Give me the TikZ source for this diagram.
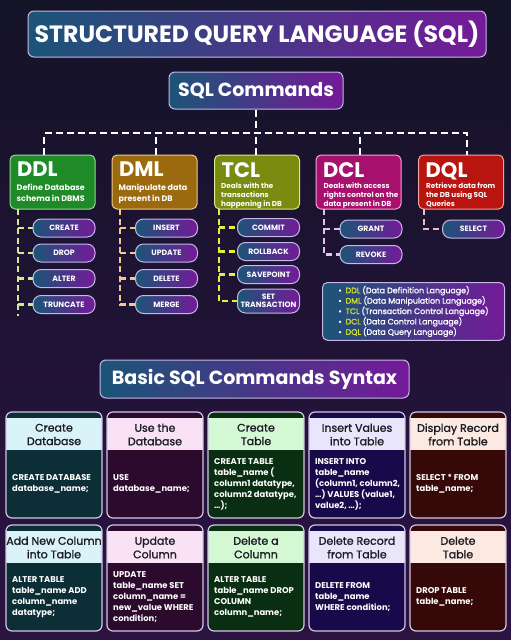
\documentclass[tikz,border=0pt]{standalone}
\usepackage{fontspec}
\setmainfont{Poppins}
\newfontfamily\mediumfont{Poppins}[FakeBold=1.3]
\usetikzlibrary{positioning}

\definecolor{bgtop}{HTML}{141328}
\definecolor{bgbot}{HTML}{2B1342}
\definecolor{gradL}{HTML}{1B5577}
\definecolor{gradR}{HTML}{741A98}
\definecolor{edge}{HTML}{C6B8E6}
\definecolor{ddlfill}{HTML}{1F8A28}
\definecolor{ddledge}{HTML}{9CD89C}
\definecolor{dmlfill}{HTML}{9C6A0E}
\definecolor{dmledge}{HTML}{EAC992}
\definecolor{tclfill}{HTML}{7A8C10}
\definecolor{tcledge}{HTML}{DAE892}
\definecolor{dclfill}{HTML}{A8106E}
\definecolor{dcledge}{HTML}{F2A6D4}
\definecolor{dqlfill}{HTML}{B81410}
\definecolor{dqledge}{HTML}{F2A6A2}
\definecolor{ddlline}{HTML}{D2E892}
\definecolor{dmlline}{HTML}{F2C890}
\definecolor{tclline}{HTML}{E4F040}
\definecolor{dclline}{HTML}{E6C2E8}
\definecolor{dqlline}{HTML}{F0B8CA}
\definecolor{abbr}{HTML}{D8E62C}
\definecolor{cardedge}{HTML}{D2C6E2}
\definecolor{headA}{HTML}{D9F3F8}
\definecolor{bodyA}{HTML}{0C2E36}
\definecolor{headB}{HTML}{F9E2F5}
\definecolor{bodyB}{HTML}{2C0A2E}
\definecolor{headC}{HTML}{D4F7D4}
\definecolor{bodyC}{HTML}{0A2E12}
\definecolor{headD}{HTML}{E9E6FB}
\definecolor{bodyD}{HTML}{180A4A}
\definecolor{headE}{HTML}{FBE9E2}
\definecolor{bodyE}{HTML}{360808}
\definecolor{headtext}{HTML}{1C1C24}

\begin{document}
\begin{tikzpicture}[x=1pt,y=-1pt,
	gradbox/.style={draw=edge,line width=1pt,left color=gradL,right color=gradR,text=white,rounded corners=6pt},
	pill/.style={gradbox,rounded corners=8pt,minimum width=62pt,minimum height=18pt,inner sep=1pt,
		align=center,font=\bfseries\fontsize{7.7}{8.4}\selectfont},
	catbox/.style={rounded corners=5pt,line width=1pt,minimum width=85pt,minimum height=54pt},
	cattitle/.style={anchor=north west,inner sep=0pt,text=white,font=\bfseries\fontsize{21}{21}\selectfont},
	catnote/.style={anchor=north west,inner sep=0pt,text=white,align=left},
	bus/.style={draw=white,line width=2.5pt,dash pattern=on 7pt off 4pt},
	branch/.style={line width=2.5pt,dash pattern=on 6pt off 3.5pt},
	cardhead/.style={inner sep=0pt,text=headtext,align=center,font=\mediumfont\fontsize{11}{13.5}\selectfont},
	cardbody/.style={anchor=west,inner sep=0pt,text=white,align=left,font=\bfseries\fontsize{8.4}{11}\selectfont}]
	% background
	\fill[top color=bgtop,bottom color=bgbot] (0,0) rectangle (511,640);
	\useasboundingbox (0,0) rectangle (511,640);

	% headings
	\node[gradbox,minimum width=458pt,minimum height=46pt,font=\bfseries\fontsize{23.6}{23.6}\selectfont] (title) at (257,34) {STRUCTURED QUERY LANGUAGE (SQL)};
	\node[gradbox,minimum width=174pt,minimum height=37pt,font=\bfseries\fontsize{19}{19}\selectfont] (cmds) at (256,90.5) {SQL Commands};

	% command groups
	\foreach \nm/\cx/\ttl/\fc/\ec in {ddl/52.5/DDL/ddlfill/ddledge, dml/154.5/DML/dmlfill/dmledge,
		tcl/257/TCL/tclfill/tcledge, dcl/358.5/DCL/dclfill/dcledge, dql/461/DQL/dqlfill/dqledge}
	{
		\node[catbox,fill=\fc,draw=\ec] (\nm) at (\cx,182) {};
		\node[cattitle] (\nm-title) at (\cx-35.5,162) {\ttl};
	}
	\node[catnote,font=\bfseries\fontsize{8}{11}\selectfont] (ddl-note) at (16.5,184) {Define Database\\schema in DBMS};
	\node[catnote,font=\bfseries\fontsize{8}{11}\selectfont] (dml-note) at (118.5,184) {Manipulate data\\present in DB};
	\node[catnote,font=\bfseries\fontsize{7.2}{8.8}\selectfont] (tcl-note) at (221,182.5) {Deals with the\\transactions\\happening in DB};
	\node[catnote,font=\bfseries\fontsize{7.2}{8.8}\selectfont] (dcl-note) at (323.5,182.5) {Deals with access\\rights control on the\\data present in DB};
	\node[catnote,font=\bfseries\fontsize{7.2}{8.8}\selectfont] (dql-note) at (426,182.5) {Retrieve data from\\the DB using SQL\\Queries};

	% connectors from SQL Commands
	\coordinate (hub) at (256,133);
	\draw[bus] (cmds.south) -- (hub);
	\draw[bus] ([xshift=-8.5pt]ddl.north) |- (hub) -| ([xshift=6pt]dql.north);
	\foreach \nm/\dx in {dml/1.5, tcl/-1, dcl/1.5}
		\draw[bus] ([xshift=\dx pt]\nm.north) -- ([xshift=\dx pt]\nm.north |- hub);

	% commands
	\foreach \nm/\px/\py/\txt in {create/64/228/CREATE, drop/64/253/DROP, alter/64/278.5/ALTER, truncate/64/304.5/TRUNCATE,
		insert/166.5/228/INSERT, update/166.5/253/UPDATE, delete/166.5/278.5/DELETE, merge/166.5/304.5/MERGE,
		commit/268.5/227.5/COMMIT, rollback/268.5/251.5/ROLLBACK, savepoint/268.5/274.5/SAVEPOINT,
		grant/371/229/GRANT, revoke/371/254.5/REVOKE, select/473.5/229/SELECT}
		\node[pill] (\nm) at (\px,\py) {\txt};
	\node[pill,minimum height=24pt] (settrans) at (268.5,301) {SET\\TRANSACTION};

	% branches
	\coordinate (ddl-v) at (18,209);
	\coordinate (dml-v) at (120,209);
	\coordinate (tcl-v) at (219,209);
	\coordinate (dcl-v) at (324,209);
	\coordinate (dql-v) at (424,209);
	\draw[branch,draw=ddlline] (ddl-v) -- (18,316);
	\foreach \c in {create,drop,alter,truncate}
		\draw[branch,draw=ddlline] (ddl-v |- \c.west) -- (\c.west);
	\draw[branch,draw=dmlline] (dml-v) |- (merge.west);
	\foreach \c in {insert,update,delete}
		\draw[branch,draw=dmlline] (dml-v |- \c.west) -- (\c.west);
	\draw[branch,draw=tclline] (tcl-v) |- (settrans.west);
	\foreach \c in {commit,rollback,savepoint}
		\draw[branch,draw=tclline] (tcl-v |- \c.west) -- (\c.west);
	\draw[branch,draw=dclline] (dcl-v) |- (revoke.west);
	\draw[branch,draw=dclline] (dcl-v |- grant.west) -- (grant.west);
	\draw[branch,draw=dqlline] (dql-v) |- (select.west);

	% legend
	\node[gradbox,rounded corners=5pt,anchor=north west,minimum width=182pt,minimum height=57pt,
		align=left,font=\mediumfont\fontsize{7.9}{10.4}\selectfont] (legend) at (322,282) {%
		\textbullet\enspace\textcolor{abbr}{DDL} (Data Definition Language)\\
		\textbullet\enspace\textcolor{abbr}{DML} (Data Manipulation Language)\\
		\textbullet\enspace\textcolor{abbr}{TCL} (Transaction Control Language)\\
		\textbullet\enspace\textcolor{abbr}{DCL} (Data Control Language)\\
		\textbullet\enspace\textcolor{abbr}{DQL} (Data Query Language)};

	\node[gradbox,minimum width=309pt,minimum height=38pt,font=\bfseries\fontsize{19}{19}\selectfont] (syntax) at (254.5,379) {Basic SQL Commands Syntax};

	% syntax cards
	\foreach \n/\cx/\cy/\hd/\bd/\hc/\bc in {
		1/6/412/{Create\\Database}/{CREATE DATABASE\\database\_name;}/headA/bodyA,
		2/107/412/{Use the\\Database}/{USE\\database\_name;}/headB/bodyB,
		3/208/412/{Create\\Table}/{CREATE TABLE\\table\_name (\\column1 datatype,\\column2 datatype,\\…);}/headC/bodyC,
		4/309/412/{Insert Values\\into Table}/{INSERT INTO\\table\_name\\(column1, column2,\\…) VALUES (value1,\\value2, …);}/headD/bodyD,
		5/410/412/{Display Record\\from Table}/{SELECT * FROM\\table\_name;}/headE/bodyE,
		6/6/525/{Add New Column\\into Table}/{ALTER TABLE\\table\_name ADD\\column\_name\\datatype;}/headA/bodyA,
		7/107/525/{Update\\Column}/{UPDATE\\table\_name SET\\column\_name =\\new\_value WHERE\\condition;}/headB/bodyB,
		8/208/525/{Delete a\\Column}/{ALTER TABLE\\table\_name DROP\\COLUMN\\column\_name;}/headC/bodyC,
		9/309/525/{Delete Record\\from Table}/{DELETE FROM\\table\_name\\WHERE condition;}/headD/bodyD,
		10/410/525/{Delete\\Table}/{DROP TABLE\\table\_name;}/headE/bodyE}
	{
		\fill[\bc,rounded corners=6pt] (\cx,\cy) rectangle ++(96,106);
		\fill[\hc] (\cx,\cy+6) rectangle ++(96,32);
		\draw[cardedge,line width=1.2pt,rounded corners=6pt] (\cx,\cy) rectangle ++(96,106);
		\node[cardhead] (card\n-head) at (\cx+48,\cy+22.5) {\hd};
		\node[cardbody] (card\n-body) at (\cx+6,\cy+72) {\bd};
	}
\end{tikzpicture}
\end{document}
